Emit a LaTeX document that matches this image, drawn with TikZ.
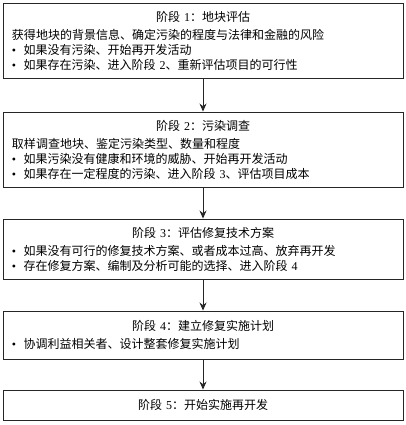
\documentclass[tikz,border=0pt]{standalone}
\usepackage{fontspec}
\setmainfont{Noto Sans CJK SC}
\newfontfamily\numf{Liberation Serif}
\usetikzlibrary{arrows.meta}
\begin{document}
\begin{tikzpicture}[
  stagebox/.style={draw=black!85, line width=0.9pt, minimum width=400pt, text width=382pt,
    inner xsep=9pt, inner ysep=4pt, align=left, font=\fontsize{12}{15}\selectfont},
  flow/.style={draw=black!85, line width=0.9pt, -{Stealth[length=8pt,width=7pt]}}
]
\useasboundingbox (0pt,0pt) rectangle (405pt,-425pt);
\newcommand{\ttl}[1]{\makebox[\linewidth][c]{#1}}
\newcommand{\bul}{{\numf •}\hspace{7.5pt}}
\node[stagebox, minimum height=75pt] (s1) at (203pt,-40.5pt)
  {\ttl{阶段 {\numf 1}：地块评估}\\[3pt]
   获得地块的背景信息、确定污染的程度与法律和金融的风险\\
   \bul 如果没有污染、开始再开发活动\\
   \bul 如果存在污染、进入阶段 {\numf 2}、重新评估项目的可行性};
\node[stagebox, minimum height=75pt] (s2) at (203pt,-149.5pt)
  {\ttl{阶段 {\numf 2}：污染调查}\\[3pt]
   取样调查地块、鉴定污染类型、数量和程度\\
   \bul 如果污染没有健康和环境的威胁、开始再开发活动\\
   \bul 如果存在一定程度的污染、进入阶段 {\numf 3}、评估项目成本};
\node[stagebox, minimum height=60pt] (s3) at (203pt,-249pt)
  {\ttl{阶段 {\numf 3}：评估修复技术方案}\\[3pt]
   \bul 如果没有可行的修复技术方案、或者成本过高、放弃再开发\\
   \bul 存在修复方案、编制及分析可能的选择、进入阶段 {\numf 4}};
\node[stagebox, minimum height=48pt] (s4) at (203pt,-335pt)
  {\ttl{阶段 {\numf 4}：建立修复实施计划}\\[3pt]
   \bul 协调利益相关者、设计整套修复实施计划};
\node[stagebox, minimum height=30pt] (s5) at (203pt,-405pt)
  {\ttl{阶段 {\numf 5}：开始实施再开发}};
\draw[flow] (s1) -- (s2);
\draw[flow] (s2) -- (s3);
\draw[flow] (s3) -- (s4);
\draw[flow] (s4) -- (s5);
\end{tikzpicture}
\end{document}
